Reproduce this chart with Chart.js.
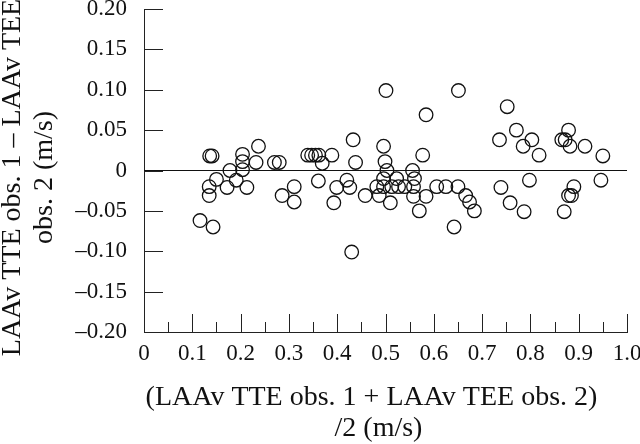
<!DOCTYPE html>
<html>
<head>
<meta charset="utf-8">
<script src="https://cdn.jsdelivr.net/npm/chart.js@4.4.1/dist/chart.umd.min.js"></script>
<style>
  html, body { margin: 0; padding: 0; background: #fff; }
  #wrap { width: 640px; height: 444px; }
</style>
</head>
<body>
<div id="wrap"><canvas id="baChart"></canvas></div>
<script>
// mean of the two readings (m/s)
const meanVals = [
  0.116, 0.143, 0.136, 0.141, 0.135, 0.135, 0.150, 0.172, 0.178, 0.191,
  0.204, 0.204, 0.204, 0.213, 0.237, 0.232, 0.270, 0.280, 0.286, 0.311,
  0.311, 0.339, 0.347, 0.355, 0.362, 0.389, 0.369, 0.361, 0.399, 0.393,
  0.420, 0.426, 0.433, 0.438, 0.430, 0.458, 0.482, 0.487, 0.496, 0.499,
  0.501, 0.503, 0.496, 0.496, 0.513, 0.523, 0.527, 0.540, 0.558, 0.510,
  0.556, 0.560, 0.558, 0.570, 0.577, 0.584, 0.584, 0.606, 0.625, 0.650,
  0.651, 0.642, 0.666, 0.674, 0.684, 0.736, 0.739, 0.752, 0.758, 0.771,
  0.785, 0.787, 0.798, 0.803, 0.818, 0.865, 0.872, 0.879, 0.882, 0.870,
  0.879, 0.885, 0.890, 0.913, 0.950, 0.946
];
// difference obs. 1 - obs. 2 (m/s)
const diffVals = [
  -0.062, -0.070, 0.018, 0.018, -0.020, -0.031, -0.011, -0.021, 0.000, -0.012,
  0.020, 0.011, 0.001, -0.021, 0.030, 0.010, 0.010, 0.010, -0.031, -0.020,
  -0.039, 0.019, 0.019, 0.019, 0.019, 0.019, 0.009, -0.013, -0.021, -0.040,
  -0.012, -0.021, 0.038, 0.010, -0.101, -0.031, -0.020, -0.031, 0.030, 0.011,
  0.099, 0.000, -0.010, -0.020, -0.020, -0.010, -0.020, -0.020, -0.020, -0.040,
  0.000, -0.010, -0.032, -0.050, 0.019, 0.069, -0.032, -0.020, -0.020, -0.020,
  0.099, -0.070, -0.031, -0.039, -0.050, 0.038, -0.021, 0.079, -0.040, 0.050,
  0.030, -0.051, -0.012, 0.038, 0.019, 0.038, 0.038, 0.050, 0.030, -0.051,
  -0.031, -0.031, -0.020, 0.030, 0.018, -0.012
];
const xTicks = [0, 0.05, 0.1, 0.15, 0.2, 0.25, 0.3, 0.35, 0.4, 0.45, 0.5, 0.55, 0.6, 0.65, 0.7, 0.75, 0.8, 0.85, 0.9, 0.95, 1.0];
const yTicks = [-0.2, -0.15, -0.1, -0.05, 0, 0.05, 0.1, 0.15, 0.2];
const zeroLine = [0, 1.0];

const points = meanVals.map((m, i) => ({ x: m, y: diffVals[i] }));

const fmtY = v => {
  if (Math.abs(v) < 1e-9) return '0';
  const s = Math.abs(v).toFixed(2);
  return v < 0 ? '\u2013' + s : s;
};
const fmtX = v => {
  if (Math.abs(v) < 1e-9) return '0';
  const k = Math.round(v * 100);
  if (k % 10 !== 0) return '';
  return v.toFixed(1);
};

// no extra room for half labels, the plot box is fixed by layout padding
const noPad = s => {
  s.paddingTop = 0; s.paddingBottom = 0;
  s.paddingLeft = 0; s.paddingRight = 0;
};

// inward tick marks, like the printed figure
const innerTicks = {
  id: 'innerTicks',
  afterDraw(chart) {
    const { ctx, scales: { x, y } } = chart;
    ctx.save();
    ctx.strokeStyle = '#222';
    ctx.lineWidth = 1;
    ctx.beginPath();
    yTicks.forEach(v => {
      const py = Math.round(y.getPixelForValue(v)) + 0.5;
      ctx.moveTo(x.left, py);
      ctx.lineTo(x.left + 19, py);
    });
    xTicks.forEach(v => {
      const px = Math.round(x.getPixelForValue(v)) + 0.5;
      const major = Math.round(v * 100) % 10 === 0;
      ctx.moveTo(px, y.bottom);
      ctx.lineTo(px, y.bottom - (major ? 18 : 10));
    });
    ctx.stroke();
    ctx.restore();
  }
};

const serif = 'Liberation Serif';

new Chart(document.getElementById('baChart'), {
  type: 'scatter',
  data: {
    datasets: [
      {
        data: points,
        pointRadius: 6.8,
        pointHoverRadius: 6.8,
        borderWidth: 1.3,
        borderColor: '#111',
        backgroundColor: 'rgba(0,0,0,0)'
      },
      {
        type: 'line',
        data: zeroLine.map(v => ({ x: v, y: 0 })),
        showLine: true,
        pointRadius: 0,
        borderWidth: 1,
        borderColor: '#111'
      }
    ]
  },
  options: {
    responsive: true,
    maintainAspectRatio: false,
    animation: false,
    layout: { padding: { top: 9, right: 13, left: 0, bottom: 0 } },
    plugins: {
      legend: { display: false },
      tooltip: { enabled: false }
    },
    scales: {
      x: {
        type: 'linear',
        min: 0,
        max: 1.0,
        afterBuildTicks: s => { s.ticks = xTicks.map(v => ({ value: v })); },
        afterFit: s => { s.height = 112; noPad(s); },
        grid: { display: false, drawTicks: false },
        border: { display: true, color: '#222', width: 1 },
        ticks: {
          color: '#111',
          padding: 8,
          autoSkip: false,
          maxRotation: 0,
          font: { family: serif, size: 23 },
          callback: v => fmtX(v)
        },
        title: {
          display: true,
          text: ['(LAAv TTE obs. 1 + LAAv TEE obs. 2)    ', '/2 (m/s)  '],
          color: '#111',
          font: { family: serif, size: 28, lineHeight: 1.1 },
          padding: { top: 4, bottom: 0 }
        }
      },
      y: {
        type: 'linear',
        min: -0.2,
        max: 0.2,
        afterBuildTicks: s => { s.ticks = yTicks.map(v => ({ value: v })); },
        afterFit: s => { s.width = 144; noPad(s); },
        grid: { display: false, drawTicks: false },
        border: { display: true, color: '#222', width: 1 },
        ticks: {
          color: '#111',
          padding: 17,
          font: { family: serif, size: 23 },
          callback: v => fmtY(v)
        },
        title: {
          display: true,
          text: ['LAAv TTE obs. 1 \u2013 LAAv TEE  ', 'obs. 2 (m/s)  '],
          color: '#111',
          font: { family: serif, size: 28, lineHeight: 1.16 },
          padding: { top: -4, bottom: 0 }
        }
      }
    }
  },
  plugins: [innerTicks]
});
</script>
</body>
</html>
